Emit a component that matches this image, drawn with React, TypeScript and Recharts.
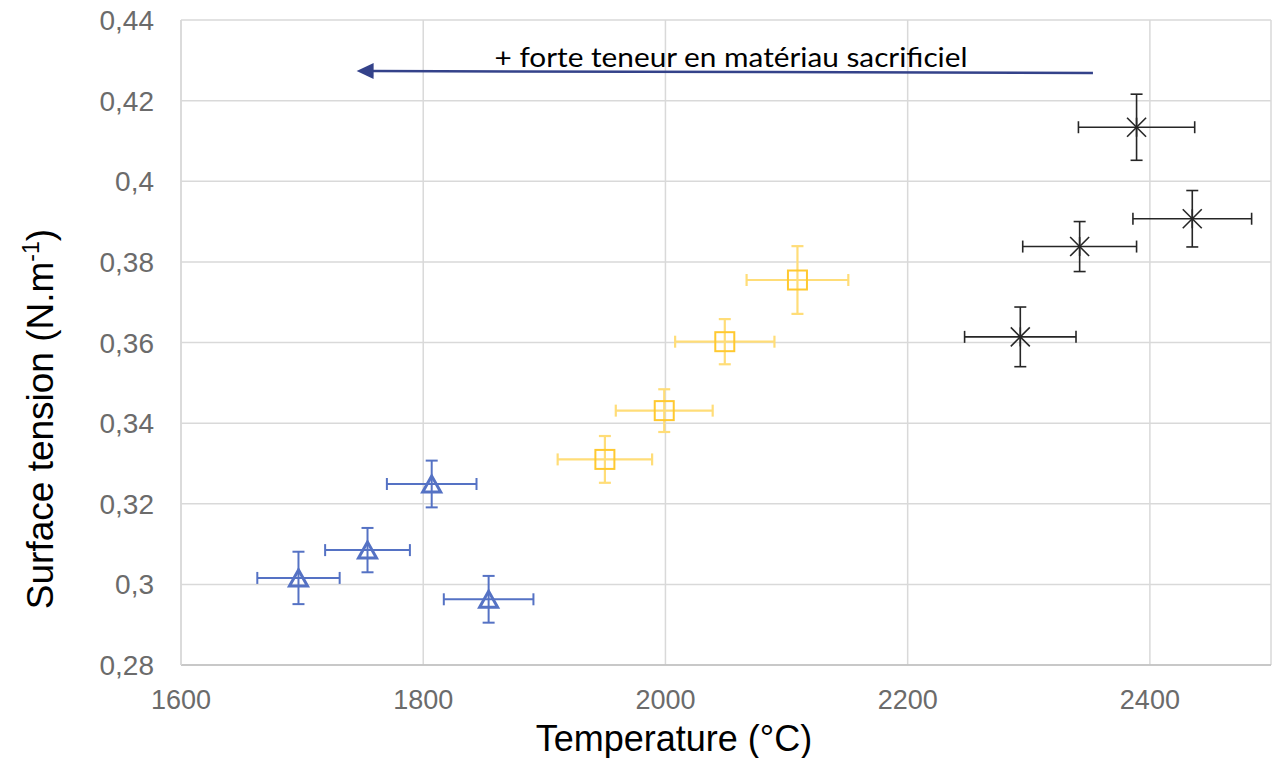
import React from "react";
import {
  ScatterChart,
  Scatter,
  XAxis,
  YAxis,
  CartesianGrid,
  ErrorBar,
  ReferenceLine,
} from "recharts";

// Blue triangles
const blueT = [1697, 1754, 1807, 1854];
const blueV = [0.3016, 0.3085, 0.3249, 0.2963];
const blueTErr = [34, 35, 37, 37];
const blueVErr = [0.0065, 0.0055, 0.0058, 0.0058];

// Yellow squares
const yellowT = [1950, 1999, 2049, 2109];
const yellowV = [0.331, 0.3431, 0.3602, 0.3755];
const yellowTErr = [39, 40, 41, 42];
const yellowVErr = [0.0058, 0.0053, 0.0056, 0.0084];

// Black stars
const blackT = [2293, 2342, 2389, 2435];
const blackV = [0.3614, 0.3838, 0.4134, 0.3907];
const blackTErr = [46, 47, 48, 49];
const blackVErr = [0.0074, 0.0062, 0.0082, 0.007];

// Annotation arrow (data coords)
const arrowT = [2353, 1745];
const arrowV = [0.42685, 0.42735];
const annotation = "+ forte teneur en matériau sacrificiel";

const xTicks = [1600, 1800, 2000, 2200, 2400];
const yTicks = [0.28, 0.3, 0.32, 0.34, 0.36, 0.38, 0.4, 0.42, 0.44];

const build = (t: number[], v: number[], et: number[], ev: number[]) =>
  t.map((x, i) => ({ x, y: v[i], ex: et[i], ey: ev[i] }));

const blueData = build(blueT, blueV, blueTErr, blueVErr);
const yellowData = build(yellowT, yellowV, yellowTErr, yellowVErr);
const blackData = build(blackT, blackV, blackTErr, blackVErr);

const FONT = "'Liberation Sans', Arial, sans-serif";
const BLUE = "#5572C4";
const YELLOW = "#FFC930";
const YELLOW_BAR = "#FFDD78";
const BLACK = "#262626";
const TICK = "#6b6b6b";

const Triangle = (p: any) => {
  const { cx, cy } = p;
  const w = 9, h = 8;
  return (
    <polygon
      points={`${cx},${cy - h} ${cx - w},${cy + h} ${cx + w},${cy + h}`}
      fill="none"
      stroke={BLUE}
      strokeWidth={3}
      strokeLinejoin="miter"
    />
  );
};

const Square = (p: any) => {
  const { cx, cy } = p;
  const s = 9.5;
  return (
    <rect x={cx - s} y={cy - s} width={2 * s} height={2 * s} fill="none" stroke={YELLOW} strokeWidth={2} />
  );
};

const Star = (p: any) => {
  const { cx, cy } = p;
  const r = 9.5;
  return (
    <g stroke={BLACK} strokeWidth={1.6} fill="none">
      <line x1={cx - r} y1={cy - r} x2={cx + r} y2={cy + r} />
      <line x1={cx - r} y1={cy + r} x2={cx + r} y2={cy - r} />
      <line x1={cx} y1={cy - r} x2={cx} y2={cy + r} />
    </g>
  );
};

const XTick = (p: any) => (
  <text x={p.x} y={p.y + 44} textAnchor="middle" fill={TICK} fontSize={27} fontFamily={FONT}>
    {p.payload.value}
  </text>
);

const YTick = (p: any) => (
  <text x={p.x - 27} y={p.y + 10} textAnchor="end" fill={TICK} fontSize={28} fontFamily={FONT}>
    {String(p.payload.value).replace(".", ",")}
  </text>
);

const ArrowShape = (p: any) => {
  const { x1, y1, x2, y2 } = p;
  const len = Math.hypot(x2 - x1, y2 - y1) || 1;
  const ux = (x2 - x1) / len;
  const uy = (y2 - y1) / len;
  const hl = 17, hw = 8;
  const bx = x2 - ux * hl;
  const by = y2 - uy * hl;
  const px = -uy, py = ux;
  return (
    <g>
      <line x1={x1} y1={y1} x2={bx + ux * 2} y2={by + uy * 2} stroke="#34428A" strokeWidth={2.5} />
      <polygon
        points={`${x2},${y2} ${bx + px * hw},${by + py * hw} ${bx - px * hw},${by - py * hw}`}
        fill="#34428A"
      />
      <text
        x={731}
        y={67}
        textAnchor="middle"
        fontSize={27}
        fontFamily="Lato, 'Open Sans', sans-serif"
        fill="#000"
        textLength={473}
        lengthAdjust="spacingAndGlyphs"
      >
        {annotation}
      </text>
    </g>
  );
};

export default function App() {
  return (
    <div style={{ position: "absolute", left: 0, top: 0, width: 1276, height: 758, background: "#fff" }}>
      <ScatterChart width={1276} height={758} margin={{ top: 20, right: 5, bottom: 0, left: 0 }}>
        <CartesianGrid stroke="#d9d9d9" strokeWidth={1.5} />
        <XAxis
          type="number"
          dataKey="x"
          domain={[1600, 2500]}
          ticks={xTicks}
          allowDataOverflow
          height={93}
          tickSize={0}
          tickMargin={0}
          tickLine={false}
          axisLine={{ stroke: "#bfbfbf", strokeWidth: 1.5 }}
          tick={<XTick />}
          label={{
            content: () => (
              <text x={674} y={751} textAnchor="middle" fontSize={36} fontFamily={FONT} fill="#000">
                Temperature (°C)
              </text>
            ),
          }}
        />
        <YAxis
          type="number"
          dataKey="y"
          domain={[0.28, 0.44]}
          ticks={yTicks}
          allowDataOverflow
          width={181}
          tickSize={0}
          tickMargin={0}
          tickLine={false}
          axisLine={{ stroke: "#d9d9d9", strokeWidth: 1.5 }}
          tick={<YTick />}
          label={{
            content: () => (
              <text
                transform="translate(53,419) rotate(-90)"
                textAnchor="middle"
                fontSize={37}
                fontFamily={FONT}
                fill="#000"
              >
                Surface tension (N.m
                <tspan dy={-14} fontSize={23}>-1</tspan>
                <tspan dy={14}>)</tspan>
              </text>
            ),
          }}
        />
        <ReferenceLine
          segment={[
            { x: arrowT[0], y: arrowV[0] },
            { x: arrowT[1], y: arrowV[1] },
          ]}
          ifOverflow="visible"
          shape={<ArrowShape />}
        />
        <Scatter data={blueData} shape={<Triangle />} isAnimationActive={false}>
          <ErrorBar dataKey="ex" direction="x" width={6} stroke={BLUE} strokeWidth={2} />
          <ErrorBar dataKey="ey" direction="y" width={6} stroke={BLUE} strokeWidth={2} />
        </Scatter>
        <Scatter data={yellowData} shape={<Square />} isAnimationActive={false}>
          <ErrorBar dataKey="ex" direction="x" width={6} stroke={YELLOW_BAR} strokeWidth={2.2} />
          <ErrorBar dataKey="ey" direction="y" width={6} stroke={YELLOW_BAR} strokeWidth={2.2} />
        </Scatter>
        <Scatter data={blackData} shape={<Star />} isAnimationActive={false}>
          <ErrorBar dataKey="ex" direction="x" width={6} stroke={BLACK} strokeWidth={1.6} />
          <ErrorBar dataKey="ey" direction="y" width={6} stroke={BLACK} strokeWidth={1.6} />
        </Scatter>
      </ScatterChart>
    </div>
  );
}
